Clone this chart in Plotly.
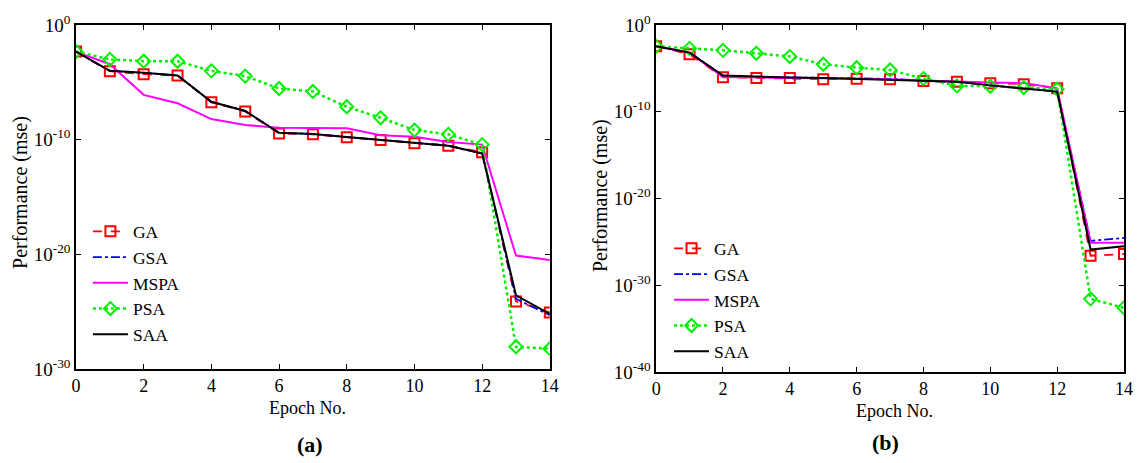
import plotly.graph_objects as go
from plotly.subplots import make_subplots

epochs = list(range(15))
names = ["GA", "GSA", "MSPA", "PSA", "SAA"]

# Panel (a)
a_GA   = [4.8e-3, 9.3e-5, 5.1e-5, 4.0e-5, 1.8e-7, 2.9e-8, 3.5e-10, 2.9e-10, 1.6e-10, 9.3e-11, 4.8e-11, 3.0e-11, 7.9e-12, 7.9e-25, 8.5e-26]
a_GSA  = [4.8e-3, 1.0e-4, 6.8e-5, 4.0e-5, 2.0e-7, 3.2e-8, 4.0e-10, 3.2e-10, 1.7e-10, 1.0e-10, 5.5e-11, 3.0e-11, 6.3e-12, 1.3e-24, 5.0e-26]
a_MSPA = [4.8e-3, 3.8e-4, 8.1e-7, 1.5e-7, 6.3e-9, 1.9e-9, 1.1e-9, 1.0e-9, 1.0e-9, 2.4e-10, 1.8e-10, 6.3e-11, 3.7e-11, 7.9e-21, 3.2e-21]
a_PSA  = [4.8e-3, 1.0e-3, 6.9e-4, 6.9e-4, 1.0e-4, 3.5e-5, 2.9e-6, 1.6e-6, 7.4e-8, 8.1e-9, 6.9e-10, 2.9e-10, 3.7e-11, 8.7e-29, 5.9e-29]
a_SAA  = [4.8e-3, 1.0e-4, 6.8e-5, 4.0e-5, 2.0e-7, 3.2e-8, 4.0e-10, 3.2e-10, 1.7e-10, 1.0e-10, 5.5e-11, 3.0e-11, 6.3e-12, 2.7e-24, 6.3e-26]

# Panel (b)
b_GA   = [3.5e-3, 4.3e-4, 9.5e-7, 7.9e-7, 7.9e-7, 5.6e-7, 6.3e-7, 5.6e-7, 3.6e-7, 2.8e-7, 1.9e-7, 1.5e-7, 5.1e-8, 2.5e-27, 4.0e-27]
b_GSA  = [3.5e-3, 6.6e-4, 1.5e-6, 1.0e-6, 8.9e-7, 7.9e-7, 7.0e-7, 6.3e-7, 3.6e-7, 2.8e-7, 1.1e-7, 5.1e-8, 2.1e-8, 1.3e-25, 2.8e-25]
b_MSPA = [3.5e-3, 6.3e-4, 1.0e-6, 8.3e-7, 7.9e-7, 7.1e-7, 6.3e-7, 5.6e-7, 4.0e-7, 2.8e-7, 2.3e-7, 2.0e-7, 5.0e-8, 7.9e-26, 7.9e-26]
b_PSA  = [3.5e-3, 2.0e-3, 1.2e-3, 5.5e-4, 2.3e-4, 3.0e-5, 1.2e-5, 6.6e-6, 6.6e-7, 9.5e-8, 8.7e-8, 6.2e-8, 4.0e-8, 2.7e-32, 2.5e-33]
b_SAA  = [3.5e-3, 6.6e-4, 1.5e-6, 1.05e-6, 8.9e-7, 7.9e-7, 6.2e-7, 5.1e-7, 3.6e-7, 2.8e-7, 1.1e-7, 5.1e-8, 2.1e-8, 1.3e-26, 3.2e-26]

a_tickvals = [1e-30, 1e-20, 1e-10, 1]
a_ticktext = ["10<sup>-30</sup>", "10<sup>-20</sup>", "10<sup>-10</sup>", "10<sup>0</sup>"]
b_tickvals = [1e-40, 1e-30, 1e-20, 1e-10, 1]
b_ticktext = ["10<sup>-40</sup>", "10<sup>-30</sup>", "10<sup>-20</sup>", "10<sup>-10</sup>", "10<sup>0</sup>"]
x_tickvals = [0, 2, 4, 6, 8, 10, 12, 14]

styles = {
    "GA":   dict(line=dict(color="#FF0000", dash="dash", width=1.8), marker=dict(symbol="square-open", size=10, color="#FF0000", line=dict(width=2)), mode="lines+markers"),
    "GSA":  dict(line=dict(color="#0000FF", dash="dashdot", width=1.8), mode="lines"),
    "MSPA": dict(line=dict(color="#FF00FF", width=2), mode="lines"),
    "PSA":  dict(line=dict(color="#00F000", dash="dot", width=2.5), marker=dict(symbol="diamond-open", size=10, color="#00F000", line=dict(width=2)), mode="lines+markers"),
    "SAA":  dict(line=dict(color="#000000", width=2), mode="lines"),
}

FONT = "Liberation Serif, Times New Roman, serif"
fig = make_subplots(rows=1, cols=2)

panels = [(1, [a_GA, a_GSA, a_MSPA, a_PSA, a_SAA], "legend"),
          (2, [b_GA, b_GSA, b_MSPA, b_PSA, b_SAA], "legend2")]
for col, series, leg in panels:
    for name, ys in zip(names, series):
        fig.add_trace(go.Scatter(x=epochs, y=ys, name=name, legend=leg, **styles[name]), row=1, col=col)

W, H = 1145, 463
ml, mr, mt, mb = 76, 14, 24, 91
pw, ph = W - ml - mr, H - mt - mb
px = lambda v: (v - ml) / pw
py = lambda v: 1 - (v - mt) / ph


def axis_style(size):
    return dict(showline=True, linecolor="black", linewidth=1.5, mirror="allticks",
                ticks="inside", ticklen=5, tickcolor="black", showgrid=False, zeroline=False,
                tickfont=dict(family=FONT, size=size, color="black"))


def label(text, x, y, size, angle=0):
    return dict(text=text, x=px(x), y=py(y), xref="paper", yref="paper", showarrow=False,
                xanchor="center", yanchor="middle", textangle=angle,
                font=dict(family=FONT, size=size, color="black"))


legend_style = dict(xanchor="left", yanchor="top", bgcolor="rgba(0,0,0,0)", itemwidth=35,
                    font=dict(family=FONT, size=17.5, color="black"), tracegroupgap=0)

fig.update_layout(
    width=W, height=H, margin=dict(l=ml, r=mr, t=mt, b=mb),
    plot_bgcolor="white", paper_bgcolor="white",
    font=dict(family=FONT, size=18, color="black"),
    legend=dict(x=px(88), y=py(213), **legend_style),
    legend2=dict(x=px(673), y=py(230), **legend_style),
    annotations=[
        label("<b>(a)</b>", 312, 445, 22),
        label("<b>(b)</b>", 891, 443, 22),
        label("Epoch No.", 309, 408, 18),
        label("Epoch No.", 900, 411, 18),
        label("Performance (mse)", 20, 192, 20, -90),
        label("Performance (mse)", 604, 195, 20, -90),
    ],
)
fig.update_xaxes(axis_style(18))
fig.update_yaxes(axis_style(19))
fig.update_layout(
    xaxis=dict(domain=[0, px(553)], range=[0, 14], tickvals=x_tickvals),
    xaxis2=dict(domain=[px(660), 1], range=[0, 14], tickvals=x_tickvals),
    yaxis=dict(domain=[py(369), 1], type="log", range=[-30, 0], tickvals=a_tickvals, ticktext=a_ticktext),
    yaxis2=dict(domain=[0, 1], type="log", range=[-40, 0], tickvals=b_tickvals, ticktext=b_ticktext),
)

fig.write_html("out.html", config={"displayModeBar": False},
               post_script="document.body.style.margin='0';")
